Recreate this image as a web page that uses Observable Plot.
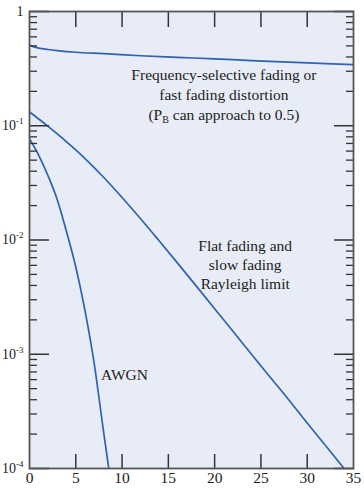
<!DOCTYPE html>
<html><head><meta charset="utf-8">
<script src="https://cdn.jsdelivr.net/npm/d3@7"></script>
<script src="https://cdn.jsdelivr.net/npm/@observablehq/plot@0.6"></script>
<style>
body{margin:0;background:#fff}
svg text, svg tspan {font-family: "Liberation Serif", "DejaVu Serif", "Times New Roman", Times, serif !important;}
</style>
</head><body><div id="chart"></div>
<script>
// Frequency-selective / fast fading curve
const fsX = [0, 0.5, 1, 2, 3, 5, 8, 12, 16, 20, 24, 28, 32, 35];
const fsY = [0.51, 0.49, 0.478, 0.465, 0.455, 0.44, 0.428, 0.41, 0.397, 0.385, 0.372, 0.36, 0.35, 0.342];
// Flat / slow fading (Rayleigh limit)
const rayX = [0, 1, 2, 3, 4, 5, 6, 8, 10, 12, 14, 16, 18, 20, 22, 24, 26, 28, 30, 32, 34];
const rayY = [0.132, 0.1146, 0.0989, 0.0849, 0.0724, 0.0614, 0.0515, 0.0354, 0.02355, 0.01535, 0.00984, 0.00627, 0.00397, 0.0025, 0.00158, 0.000995, 0.00063, 0.0004, 0.00025, 0.000158, 0.0000995];
// AWGN
const awgnX = [0, 1, 2, 3, 4, 5, 6, 7, 8, 8.6];
const awgnY = [0.077, 0.055, 0.0365, 0.0225, 0.0118, 0.0058, 0.0024, 0.00082, 0.00021, 0.0000955];

const xTickLabels = [0, 5, 10, 15, 20, 25, 30, 35];
const xInnerTicks = [5, 10, 15, 20, 25, 30];
const yMajor = [1e-4, 1e-3, 1e-2, 1e-1, 1];
const yMinor = d3.range(-4, 0).flatMap(e => d3.range(2, 10).map(m => m * Math.pow(10, e)));

const annX = [21, 23.3, 10.26];
const annY = [0.1915, 0.00622, 0.000652];
const annText = [
  "Frequency-selective fading or\nfast fading distortion\n(P_B can approach to 0.5)",
  "Flat fading and\nslow fading\nRayleigh limit",
  "AWGN"
];
const annLH = [1.28, 1.22, 1];

const toRows = (xs, ys) => xs.map((x, i) => ({x, y: ys[i]}));
const series = [toRows(fsX, fsY), toRows(rayX, rayY), toRows(awgnX, awgnY)];
const ann = annX.map((x, i) => ({x, y: annY[i], text: annText[i], lh: annLH[i]}));

const serif = "Liberation Serif";
const lineColor = "#2d63b0";
const tickColor = "#333";
const fmt = d => d === 1 ? "1" : "10^" + Math.round(Math.log10(d));

const chart = Plot.plot({
  width: 364, height: 489,
  marginLeft: 29, marginRight: 11, marginTop: 11, marginBottom: 21,
  style: {fontFamily: serif, fontSize: "15px", color: "#222", background: "#fff"},
  x: {domain: [0, 35], label: null},
  y: {type: "log", domain: [1e-4, 1], label: null},
  marks: [
    Plot.frame({fill: "#e8ecf6", stroke: null}),
    ...series.map(s => Plot.line(s, {x: "x", y: "y", stroke: lineColor, strokeWidth: 1.7, curve: "monotone-x", clip: true})),
    ...ann.map(a => Plot.text([a], {x: "x", y: "y", text: "text", lineHeight: a.lh, textAnchor: "middle", fontSize: 15.5, fontFamily: serif, fill: "#222"})),
    // inner ticks
    Plot.axisY(yMajor, {anchor: "left", tickSize: 20, dx: 20, tickFormat: () => "", label: null, stroke: tickColor, strokeWidth: 1.5}),
    Plot.axisY(yMinor, {anchor: "left", tickSize: 8, dx: 8, tickFormat: () => "", label: null, stroke: tickColor, strokeWidth: 1.3}),
    Plot.axisY(yMajor, {anchor: "right", tickSize: 20, dx: -20, tickFormat: () => "", label: null, stroke: tickColor, strokeWidth: 1.5}),
    Plot.axisY(yMinor, {anchor: "right", tickSize: 8, dx: -8, tickFormat: () => "", label: null, stroke: tickColor, strokeWidth: 1.3}),
    Plot.axisX(xInnerTicks, {anchor: "top", tickSize: 15, dy: 15, tickFormat: () => "", label: null, stroke: tickColor, strokeWidth: 1.5}),
    Plot.axisX(xInnerTicks, {anchor: "bottom", tickSize: 14, dy: -14, tickFormat: () => "", label: null, stroke: tickColor, strokeWidth: 1.5}),
    // labels
    Plot.axisY(yMajor, {anchor: "left", tickSize: 0, tickPadding: 6, tickFormat: fmt, label: null, fontSize: 14, fontFamily: serif, fill: "#222"}),
    Plot.axisX(xTickLabels, {anchor: "bottom", tickSize: 0, tickPadding: 3, label: null, fontSize: 15.5, fontFamily: serif, fill: "#222"}),
    Plot.frame({stroke: "#555", strokeWidth: 1.8})
  ]
});

// superscripts / subscripts
const ns = "http://www.w3.org/2000/svg";
chart.querySelectorAll("text, tspan").forEach(el => {
  if (el.children.length) return;
  const t = el.textContent;
  const m = t.match(/^10\^(-?\d+)$/);
  if (m) {
    el.textContent = "10";
    const s = document.createElementNS(ns, "tspan");
    s.setAttribute("dy", "-6");
    s.setAttribute("font-size", "9");
    s.textContent = m[1];
    el.appendChild(s);
    return;
  }
  if (t.includes("P_B")) {
    const [a, b] = t.split("P_B");
    el.textContent = a + "P";
    const s = document.createElementNS(ns, "tspan");
    s.setAttribute("dy", "3");
    s.setAttribute("font-size", "10");
    s.textContent = "B";
    el.appendChild(s);
    const r = document.createElementNS(ns, "tspan");
    r.setAttribute("dy", "-3");
    r.textContent = b;
    el.appendChild(r);
  }
});
document.getElementById("chart").appendChild(chart);
</script>
</body></html>
